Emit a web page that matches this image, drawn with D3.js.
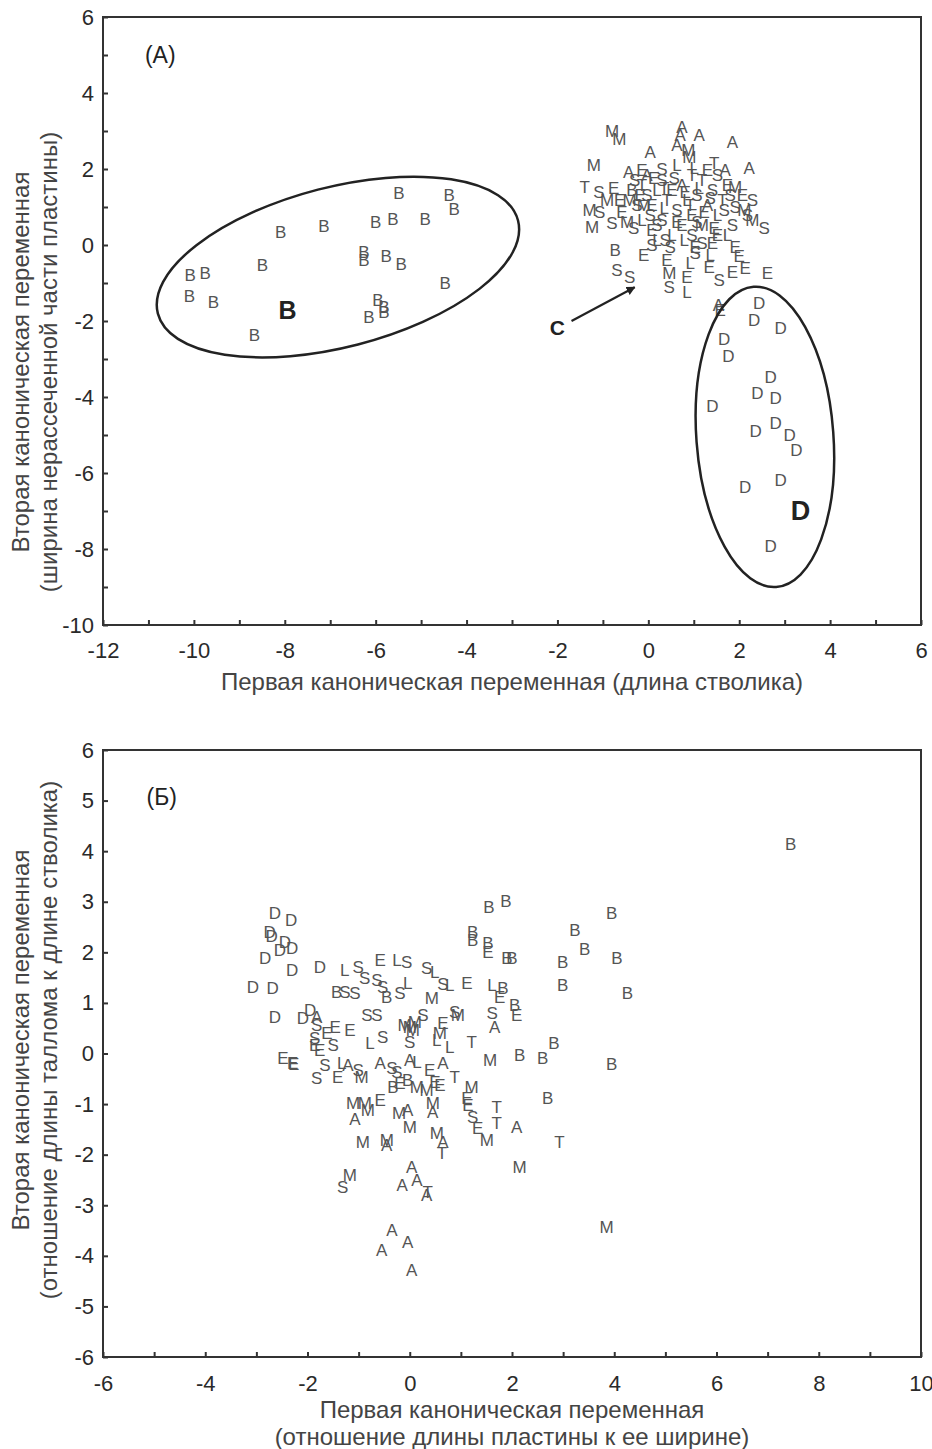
<!DOCTYPE html>
<html><head><meta charset="utf-8">
<script src="https://cdn.jsdelivr.net/npm/d3@7"></script>
<style>
body{margin:0;background:#fff}
text{font-family:"Liberation Sans",Arial,sans-serif}
</style></head>
<body><svg id="c" width="932" height="1449"></svg>
<script>
// ---------- Panel (A) data: first vs second canonical variable ----------
const panelA_B = [[-5.49,1.37],[-4.38,1.32],[-4.27,0.95],[-8.09,0.34],[-7.14,0.50],[-6.00,0.61],[-5.62,0.68],[-4.91,0.68],[-8.49,-0.53],[-10.08,-0.79],[-9.75,-0.74],[-10.10,-1.34],[-9.57,-1.50],[-6.26,-0.18],[-6.26,-0.39],[-5.77,-0.29],[-5.44,-0.50],[-4.47,-1.00],[-5.95,-1.45],[-5.82,-1.63],[-5.82,-1.76],[-6.15,-1.89],[-8.67,-2.37],[-0.36,1.45],[-0.73,-0.13]];
const panelA_D = [[2.44,-1.53],[2.33,-1.97],[2.91,-2.18],[1.67,-2.47],[1.76,-2.92],[2.69,-3.47],[2.40,-3.89],[2.80,-4.03],[1.41,-4.24],[2.80,-4.68],[2.36,-4.89],[3.11,-5.00],[3.26,-5.39],[2.91,-6.18],[2.13,-6.37],[2.69,-7.92]];
const panelA_A = [[0.74,3.11],[0.70,2.89],[1.12,2.89],[0.63,2.63],[1.85,2.71],[0.04,2.45],[-0.43,1.92],[1.69,1.97],[2.22,2.03],[0.74,1.58],[1.30,1.05],[-0.03,1.84],[1.54,-1.58]];
const panelA_M = [[-0.80,3.00],[-0.64,2.79],[0.88,2.50],[0.90,2.32],[-1.20,2.11],[1.91,1.53],[-1.29,0.92],[-1.24,0.47],[-0.47,0.61],[2.11,0.92],[0.46,-0.74],[1.18,0.53],[2.29,0.66],[-0.41,1.18],[-0.10,1.05],[-0.91,1.18]];
const panelA_E = [[-0.14,1.97],[-0.76,1.50],[-0.10,-0.26],[1.03,-0.05],[1.91,-0.05],[2.00,-0.29],[1.85,-0.71],[2.13,-0.61],[2.62,-0.74],[0.85,-0.84],[1.34,-0.58],[1.58,-1.71],[0.08,1.05],[0.52,1.45],[0.96,0.79],[1.74,1.58],[0.74,0.53],[0.08,0.39],[1.30,1.97],[1.52,0.26],[2.07,1.32],[-0.58,0.87],[0.41,-0.39],[0.12,1.76],[0.81,1.39],[1.23,0.87],[-0.18,1.32],[0.63,0.61],[1.45,0.45],[-0.63,1.18],[1.41,0.05]];
const panelA_S = [[0.30,2.00],[-1.09,1.39],[2.29,1.18],[-1.07,0.87],[-0.80,0.58],[2.55,0.45],[1.91,1.00],[0.08,0.00],[0.48,-0.05],[-0.69,-0.66],[-0.41,-0.84],[1.56,-0.92],[0.46,-1.11],[1.03,-0.21],[-0.03,1.32],[0.30,1.71],[0.63,0.92],[1.07,1.32],[1.41,1.45],[1.85,0.53],[0.96,0.26],[0.30,0.66],[-0.25,1.05],[1.52,1.84],[2.18,0.79],[-0.32,0.45],[1.18,0.05],[-0.30,1.71],[0.57,1.76],[1.36,1.24],[0.04,0.79],[0.19,0.53],[1.07,0.61],[1.67,0.92],[1.80,1.32],[0.37,0.13]];
const panelA_L = [[1.01,2.03],[1.36,-0.26],[0.85,-1.24],[0.92,-0.47],[0.19,1.45],[0.85,1.18],[1.52,0.79],[0.52,0.26],[-0.14,0.66],[0.63,2.11],[1.74,0.26],[0.19,0.13],[1.12,1.50],[0.35,0.97],[0.79,0.13]];
const panelA_T = [[1.45,2.16],[-1.40,1.53],[-0.14,1.58],[0.41,1.18],[1.18,1.71],[1.63,1.18],[0.96,1.84],[0.35,1.50],[0.92,1.05]];

// ---------- Panel (Б) data ----------
const panelB_B = [[7.45,4.14],[1.55,2.90],[1.88,3.02],[1.23,2.40],[1.23,2.25],[1.53,2.19],[1.90,1.89],[2.00,1.89],[3.23,2.44],[3.42,2.07],[3.95,2.78],[4.05,1.89],[4.26,1.20],[2.99,1.81],[2.99,1.36],[1.82,1.30],[2.05,0.96],[2.82,0.21],[2.60,-0.09],[2.15,-0.03],[3.95,-0.21],[2.70,-0.88],[-1.43,1.22],[-0.45,1.12],[-0.33,-0.66],[-0.04,-0.52]];
const panelB_D = [[-2.64,2.78],[-2.32,2.64],[-2.74,2.40],[-2.70,2.32],[-2.44,2.21],[-2.30,2.09],[-2.54,2.05],[-2.83,1.89],[-2.30,1.65],[-1.76,1.71],[-3.07,1.32],[-2.68,1.30],[-2.64,0.72],[-2.09,0.70],[-1.95,0.86]];
const panelB_E = [[-0.58,1.85],[1.12,1.40],[1.76,1.12],[2.09,0.76],[1.53,2.01],[-1.46,0.53],[0.65,0.60],[-1.62,0.41],[-1.17,0.47],[-1.86,0.17],[-1.76,0.07],[-2.48,-0.09],[-2.29,-0.19],[-2.27,-0.20],[0.39,-0.32],[-1.41,-0.46],[0.49,-0.56],[-0.19,-0.58],[0.59,-0.62],[-0.58,-0.92],[1.12,-0.88],[1.14,-1.02],[1.33,-1.47]];
const panelB_L = [[-0.25,1.85],[0.49,1.61],[0.78,1.36],[1.61,1.36],[-1.27,1.65],[-0.04,1.40],[-0.78,0.21],[0.53,0.27],[-1.33,-0.19],[0.14,-0.17],[0.78,0.13]];
const panelB_S = [[-0.06,1.81],[0.33,1.69],[0.65,1.38],[-1.01,1.71],[-0.88,1.49],[-0.64,1.45],[-1.27,1.22],[-1.07,1.20],[-0.53,1.32],[-0.19,1.20],[1.61,0.80],[-1.82,0.57],[-0.84,0.76],[-0.64,0.76],[0.26,0.76],[-1.86,0.31],[-0.53,0.33],[0.00,0.23],[-1.50,0.17],[-1.66,-0.23],[-1.01,-0.32],[-0.35,-0.28],[-1.82,-0.48],[-0.25,-0.36],[1.23,-1.25],[-1.31,-2.64],[0.88,0.82]];
const panelB_M = [[0.43,1.10],[0.94,0.76],[0.06,0.47],[0.00,0.53],[-0.10,0.57],[0.10,0.62],[0.59,0.41],[1.57,-0.13],[-0.94,-0.46],[1.21,-0.66],[0.14,-0.66],[0.33,-0.72],[-1.11,-0.98],[-0.88,-0.98],[-0.82,-1.11],[-0.21,-1.17],[0.00,-1.45],[0.45,-0.98],[1.51,-1.71],[-0.92,-1.75],[-0.45,-1.71],[0.53,-1.57],[2.15,-2.24],[-1.17,-2.40],[3.85,-3.43]];
const panelB_T = [[1.21,0.23],[0.88,-0.46],[1.70,-1.06],[1.70,-1.37],[2.93,-1.75],[0.63,-1.96],[0.35,-2.74]];
const panelB_A = [[1.66,0.53],[-1.82,0.72],[-1.21,-0.23],[-0.58,-0.19],[0.00,-0.13],[0.65,-0.19],[-1.07,-1.29],[-0.04,-1.11],[0.45,-1.15],[2.09,-1.45],[-0.45,-1.81],[0.65,-1.75],[0.04,-2.24],[-0.15,-2.60],[0.14,-2.50],[0.33,-2.79],[-0.35,-3.49],[-0.04,-3.72],[-0.55,-3.88],[0.04,-4.28]];

// ---------- Axis ticks ----------
const panelA_xTicks = d3.range(-12, 7, 1);
const panelA_yTicks = d3.range(-10, 7, 1);
const panelB_xTicks = d3.range(-6, 11, 1);
const panelB_yTicks = d3.range(-6, 7, 1);

const panelA_xTitle = ["Первая каноническая переменная (длина стволика)"];
const panelA_yTitle = ["Вторая каноническая переменная", "(ширина нерассеченной части пластины)"];
const panelB_xTitle = ["Первая каноническая переменная", "(отношение длины пластины к ее ширине)"];
const panelB_yTitle = ["Вторая каноническая переменная", "(отношение длины таллома к длине стволика)"];

const svg = d3.select('#c');
svg.append('rect').attr('width',932).attr('height',1449).attr('fill','#fff');

const defs = svg.append('defs');
defs.append('marker').attr('id','arr').attr('viewBox','0 0 10 10').attr('refX',9).attr('refY',5)
  .attr('markerWidth',9).attr('markerHeight',9).attr('orient','auto').attr('markerUnits','userSpaceOnUse')
  .append('path').attr('d','M0,0 L10,5 L0,10 z').attr('fill','#222');

function rows(groups){
  const out=[];
  for (const [letter, pts] of groups) for (const p of pts) out.push({l:letter,x:p[0],y:p[1]});
  return out;
}

function panel(o){
  const x = d3.scaleLinear().domain(o.xd).range([o.left,o.right]);
  const y = d3.scaleLinear().domain(o.yd).range([o.bottom,o.top]);
  const g = svg.append('g');

  g.append('rect').attr('x',o.left).attr('y',o.top).attr('width',o.right-o.left).attr('height',o.bottom-o.top)
    .attr('fill','none').attr('stroke','#333').attr('stroke-width',2);

  const xa = g.append('g').attr('transform',`translate(0,${o.bottom})`)
    .call(d3.axisBottom(x).tickValues(o.xt).tickSizeInner(-5).tickSizeOuter(0).tickPadding(o.xpad)
      .tickFormat(d => (d % o.xstep === 0) ? String(d) : ''));
  const ya = g.append('g').attr('transform',`translate(${o.left},0)`)
    .call(d3.axisLeft(y).tickValues(o.yt).tickSizeInner(-5).tickSizeOuter(0).tickPadding(o.ypad)
      .tickFormat(d => (d % o.ystep === 0) ? String(d) : ''));
  [xa,ya].forEach(a=>{
    a.select('.domain').remove();
    a.selectAll('line').attr('stroke','#333').attr('stroke-width',2);
    a.selectAll('text').attr('fill','#2a2a2a').style('font-size','22px').style('font-family','"Liberation Sans",Arial,sans-serif');
  });

  o.xTitle.forEach((t,i)=>{
    g.append('text').attr('x',(o.left+o.right)/2).attr('y',o.xTitleY + i*27).attr('text-anchor','middle')
      .attr('fill','#444').style('font-size','24px').text(t);
  });
  o.yTitle.forEach((t,i)=>{
    g.append('text').attr('transform',`translate(${o.yTitleX[i]},${o.yTitleC}) rotate(-90)`).attr('text-anchor','middle')
      .attr('dy','0.35em').attr('fill','#444').style('font-size','24px').text(t);
  });

  g.append('g').selectAll('text').data(rows(o.groups)).join('text')
    .attr('x',d=>x(d.x)).attr('y',d=>y(d.y)).attr('dy','0.36em').attr('text-anchor','middle')
    .attr('fill','#555').style('font-size','17px').text(d=>d.l);

  return {x,y,g};
}

// ---------- Panel A ----------
const A = panel({xd:[-12,6], yd:[-10,6], left:103, right:921, top:17, bottom:625,
  xt:panelA_xTicks, yt:panelA_yTicks, xstep:2, ystep:2, xpad:17, ypad:9,
  xTitle:panelA_xTitle, yTitle:panelA_yTitle, xTitleY:690, yTitleX:[21,49], yTitleC:362,
  groups:[['B',panelA_B],['D',panelA_D],['A',panelA_A],['M',panelA_M],['E',panelA_E],['S',panelA_S],['L',panelA_L],['T',panelA_T]]});

// ellipses (centre in data units, radii in px, tilt in degrees)
const ellipsesA = [
  {cx:-6.83, cy:-0.58, rx:186, ry:80, rot:-14.5},
  {cx:2.565, cy:-5.05, rx:68.5, ry:150.5, rot:-4.3}
];
A.g.selectAll('ellipse').data(ellipsesA).join('ellipse')
  .attr('transform',d=>`translate(${A.x(d.cx)},${A.y(d.cy)}) rotate(${d.rot})`)
  .attr('rx',d=>d.rx).attr('ry',d=>d.ry).attr('fill','none').attr('stroke','#222').attr('stroke-width',2.5);

const labelsA = [
  {t:'B', x:-7.94, y:-1.71, size:25, w:'bold'},
  {t:'D', x:3.35, y:-6.97, size:27, w:'bold'},
  {t:'C', x:-2.0, y:-2.18, size:21, w:'bold'},
  {t:'(A)', x:-10.74, y:5.0, size:23, w:'normal'}
];
A.g.selectAll('text.lab').data(labelsA).join('text').attr('class','lab')
  .attr('x',d=>A.x(d.x)).attr('y',d=>A.y(d.y)).attr('dy','0.36em').attr('text-anchor','middle')
  .attr('fill','#222').style('font-size',d=>d.size+'px').style('font-weight',d=>d.w).text(d=>d.t);

const arrowA = {x1:-1.69, y1:-2.0, x2:-0.30, y2:-1.11};
A.g.append('line').attr('x1',A.x(arrowA.x1)).attr('y1',A.y(arrowA.y1)).attr('x2',A.x(arrowA.x2)).attr('y2',A.y(arrowA.y2))
  .attr('stroke','#222').attr('stroke-width',2.2).attr('marker-end','url(#arr)');

// ---------- Panel Б ----------
const B = panel({xd:[-6,10], yd:[-6,6], left:103, right:921, top:750, bottom:1357,
  xt:panelB_xTicks, yt:panelB_yTicks, xstep:2, ystep:1, xpad:18, ypad:9,
  xTitle:panelB_xTitle, yTitle:panelB_yTitle, xTitleY:1418, yTitleX:[21,49], yTitleC:1040,
  groups:[['B',panelB_B],['D',panelB_D],['E',panelB_E],['L',panelB_L],['S',panelB_S],['M',panelB_M],['T',panelB_T],['A',panelB_A]]});

const labelsB = [{t:'(Б)', x:-4.85, y:5.07, size:23}];
B.g.selectAll('text.lab').data(labelsB).join('text').attr('class','lab')
  .attr('x',d=>B.x(d.x)).attr('y',d=>B.y(d.y)).attr('dy','0.36em').attr('text-anchor','middle')
  .attr('fill','#222').style('font-size',d=>d.size+'px').text(d=>d.t);
</script></body></html>
